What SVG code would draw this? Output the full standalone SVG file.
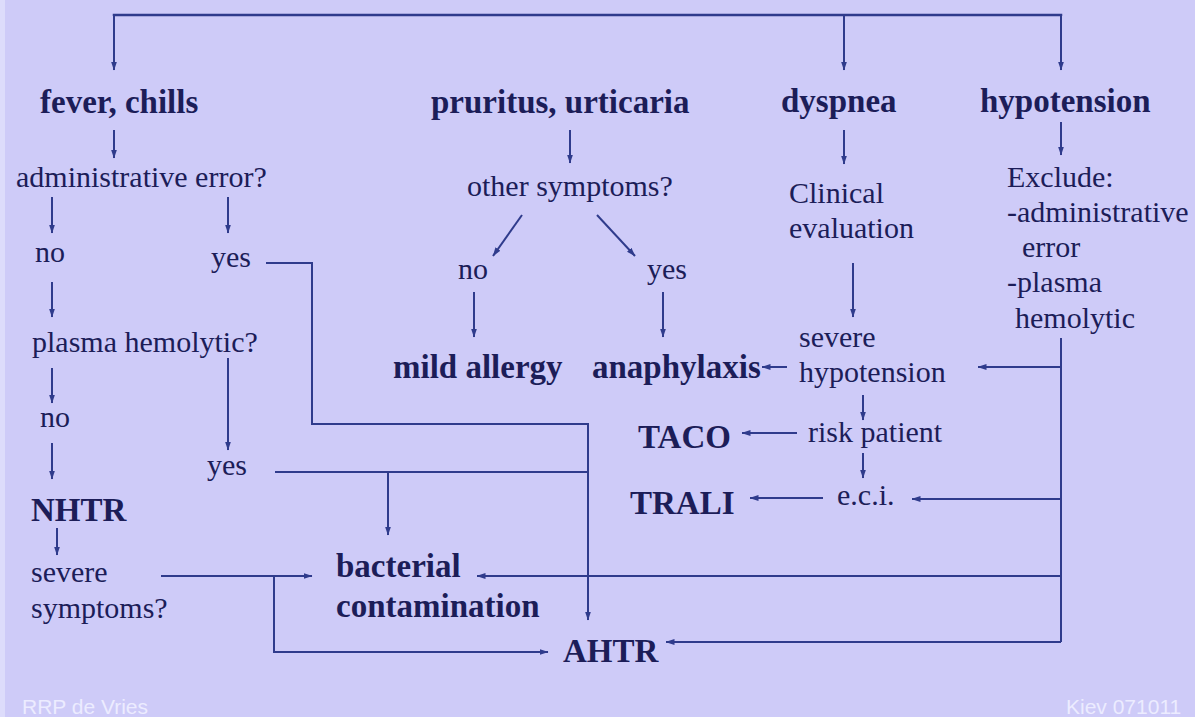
<svg xmlns="http://www.w3.org/2000/svg" width="1195" height="717" viewBox="0 0 1195 717">
<style>
.t{font-family:"Liberation Serif","Times New Roman",serif;font-size:30px;fill:#1c1d58}
.b{font-family:"Liberation Serif","Times New Roman",serif;font-size:33px;font-weight:bold;fill:#1c1d58}
.f{font-family:"Liberation Sans",Arial,sans-serif;font-size:21px;fill:#ececff}
.c path{fill:none;stroke:#2f3b8c;stroke-width:2}
.c .a{marker-end:url(#ah)}
</style>
<defs>
<marker id="ah" markerWidth="9" markerHeight="7" refX="8.5" refY="3.5" orient="auto" markerUnits="userSpaceOnUse"><path d="M0,0.5 L9,3.5 L0,6.5 z" fill="#2f3b8c"/></marker>
</defs>
<rect width="1195" height="717" fill="#cecbf8"/>
<rect width="5" height="717" fill="#dddcfb"/>
<g class="c" id="connectors">
<path d="M114,16 V15 H1061 V16" style="stroke-width:2.5"/>
<path class="a" d="M114,15 V70"/>
<path class="a" d="M844,15 V70"/>
<path class="a" d="M1061,15 V70"/>
<path class="a" d="M114,130 V158"/>
<path class="a" d="M52,197 V233"/>
<path class="a" d="M228,197 V233"/>
<path class="a" d="M52,282 V317"/>
<path class="a" d="M52,368 V403"/>
<path class="a" d="M228,358 V450"/>
<path class="a" d="M52,443 V479"/>
<path class="a" d="M57,528 V555"/>
<path class="a" d="M266,263 H312 V424 H588 V620"/>
<path d="M275,472 H588"/>
<path class="a" d="M388,472 V535"/>
<path class="a" d="M161,576 H312"/>
<path class="a" d="M274,576 V652 H548"/>
<path class="a" d="M570,130 V163"/>
<path class="a" d="M522,215 L493,256"/>
<path class="a" d="M597,215 L635,256"/>
<path class="a" d="M474,292 V337"/>
<path class="a" d="M663,292 V337"/>
<path class="a" d="M844,130 V164"/>
<path class="a" d="M853,263 V317"/>
<path class="a" d="M1061,122 V155"/>
<path d="M1061,338 V642"/>
<path class="a" d="M1061,367 H978"/>
<path class="a" d="M1061,499 H912"/>
<path class="a" d="M1061,576 H477"/>
<path class="a" d="M1061,642 H666"/>
<path class="a" d="M787,367 H762"/>
<path class="a" d="M863,395 V420"/>
<path class="a" d="M863,453 V478"/>
<path class="a" d="M797,433 H742"/>
<path class="a" d="M823,498 H750"/>
</g>
<g id="n-fever"><text class="b" x="40" y="113">fever, chills</text></g>
<g id="n-admin"><text class="t" x="16" y="187">administrative error?</text></g>
<g id="n-no1"><text class="t" x="35" y="262">no</text></g>
<g id="n-yes1"><text class="t" x="211" y="267">yes</text></g>
<g id="n-plasma"><text class="t" x="32" y="352">plasma hemolytic?</text></g>
<g id="n-no2"><text class="t" x="40" y="427">no</text></g>
<g id="n-yes2"><text class="t" x="207" y="475">yes</text></g>
<g id="n-nhtr"><text class="b" x="31" y="521">NHTR</text></g>
<g id="n-severe"><text class="t" x="31" y="582">severe</text><text class="t" x="31" y="618">symptoms?</text></g>
<g id="n-pruritus"><text class="b" x="431" y="113">pruritus, urticaria</text></g>
<g id="n-other"><text class="t" x="467" y="196">other symptoms?</text></g>
<g id="n-no3"><text class="t" x="458" y="279">no</text></g>
<g id="n-yes3"><text class="t" x="647" y="279">yes</text></g>
<g id="n-mild"><text class="b" x="393" y="378">mild allergy</text></g>
<g id="n-anaph"><text class="b" x="592" y="378">anaphylaxis</text></g>
<g id="n-dyspnea"><text class="b" x="781" y="112">dyspnea</text></g>
<g id="n-clinical"><text class="t" x="789" y="203">Clinical</text><text class="t" x="789" y="238">evaluation</text></g>
<g id="n-hypotension"><text class="b" x="980" y="112">hypotension</text></g>
<g id="n-exclude"><text class="t" x="1007" y="187">Exclude:</text><text class="t" x="1007" y="222">-administrative</text><text class="t" x="1022" y="257">error</text><text class="t" x="1007" y="292">-plasma</text><text class="t" x="1015" y="328">hemolytic</text></g>
<g id="n-severehypo"><text class="t" x="799" y="347">severe</text><text class="t" x="799" y="382">hypotension</text></g>
<g id="n-taco"><text class="b" x="638" y="448">TACO</text></g>
<g id="n-risk"><text class="t" x="808" y="442">risk patient</text></g>
<g id="n-trali"><text class="b" x="630" y="514">TRALI</text></g>
<g id="n-eci"><text class="t" x="837" y="505">e.c.i.</text></g>
<g id="n-bacterial"><text class="b" x="336" y="577">bacterial</text><text class="b" x="336" y="617">contamination</text></g>
<g id="n-ahtr"><text class="b" x="563" y="662">AHTR</text></g>
<text class="f" x="22" y="714">RRP de Vries</text>
<text class="f" x="1066" y="714">Kiev 071011</text>
</svg>
